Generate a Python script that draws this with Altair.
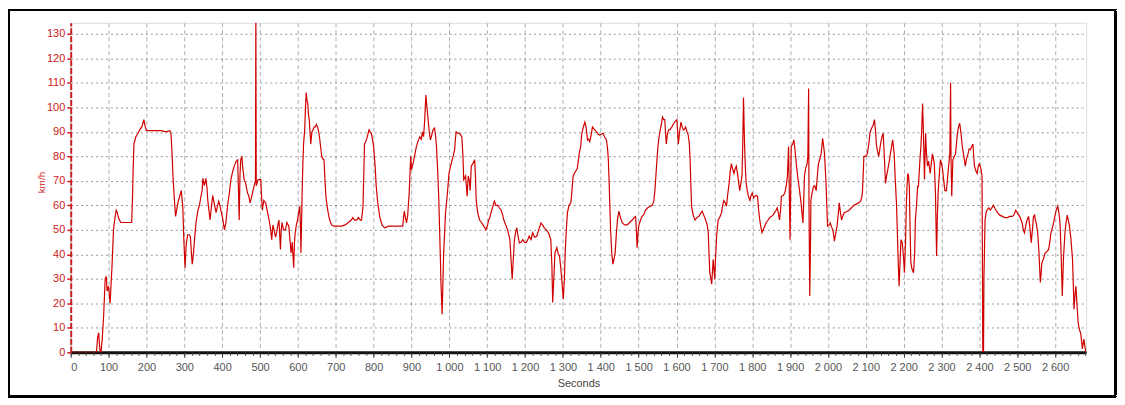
import altair as alt
import pandas as pd

# Time (s) and speed (km/h)
T = [0, 68, 71, 74, 76, 78, 80, 83, 87, 91, 94, 96, 100, 104, 109, 113, 117, 120, 123, 126, 132, 145, 155, 161, 163, 165, 167, 172, 178, 183, 188, 193, 197, 200, 220, 240, 250, 262, 265, 268, 270, 274, 277, 283, 292, 296, 299, 302, 305, 309, 313, 316, 319, 321, 324, 327, 331, 336, 340, 344, 347, 349, 353, 357, 360, 362, 365, 368, 372, 375, 380, 384, 388, 391, 394, 397, 401, 406, 410, 414, 419, 423, 428, 432, 437, 441,
     445, 447, 449, 452, 454, 458, 462, 467, 470, 474, 477, 480, 486, 488, 489, 490, 495, 502, 504, 506, 510, 515, 520, 524, 528, 531, 534, 537, 541, 544, 547, 550, 552, 554, 556, 558, 562, 567, 571, 576, 579, 582, 585, 589, 591, 593, 596, 599, 602, 605, 607, 608, 610, 611, 613, 615, 618, 620, 622, 624, 626, 628, 630, 632, 634, 637, 640, 643, 646, 649, 652, 655, 657, 660, 663, 666, 669, 671, 674, 677, 680, 684, 689, 695, 702, 715, 725, 737, 741, 745, 750, 755, 760, 765, 768, 772, 774, 776, 779, 781, 785, 788, 791, 794, 797, 800, 804, 807, 811, 816, 822, 829, 840, 850, 859, 870, 877, 879, 881, 884, 887, 890, 894, 898, 900, 904, 908, 913, 917, 922, 926, 929, 932, 935, 938, 941, 944, 947, 950, 954, 957, 961, 964, 966, 969, 972, 974, 976, 978, 981, 983, 985, 988, 990, 995, 999,
     1005, 1010, 1014, 1016, 1018, 1022, 1027, 1033, 1036, 1038, 1043, 1045, 1047, 1050, 1053, 1055, 1058, 1062, 1067, 1069, 1071, 1075, 1080, 1085, 1089, 1093, 1097, 1101, 1104, 1107, 1110, 1114, 1119, 1123, 1128, 1132, 1137, 1141, 1144, 1149, 1154, 1157, 1160, 1163, 1166, 1169, 1172, 1175, 1178, 1181, 1185, 1190, 1194, 1198, 1203, 1207, 1211, 1216, 1220, 1225, 1231, 1236, 1242, 1246, 1251, 1256, 1262, 1266, 1268, 1271, 1273, 1276, 1279, 1284, 1288, 1291, 1294, 1297, 1301, 1304, 1306, 1309, 1312, 1316, 1321, 1324, 1327, 1330, 1334, 1338, 1343, 1347, 1350, 1354, 1358, 1361, 1365, 1368, 1371, 1375, 1378, 1383, 1389, 1393, 1397, 1401, 1406, 1410, 1415, 1418, 1420, 1422, 1424, 1426, 1429, 1432, 1435, 1438, 1441, 1444, 1448, 1452, 1457, 1463, 1470, 1476, 1483, 1488, 1492, 1494, 1496, 1498,
     1500, 1505, 1509, 1513, 1518, 1524, 1531, 1536, 1540, 1543, 1546, 1549, 1551, 1554, 1557, 1560, 1563, 1566, 1569, 1571, 1573, 1576, 1579, 1583, 1588, 1591, 1595, 1598, 1601, 1603, 1605, 1608, 1612, 1615, 1618, 1621, 1624, 1628, 1631, 1634, 1636, 1638, 1640, 1644, 1649, 1654, 1659, 1663, 1668, 1672, 1677, 1681, 1684, 1686, 1688, 1691, 1693, 1695, 1697, 1699, 1701, 1703, 1706, 1710, 1714, 1719, 1722, 1725, 1729, 1732, 1735, 1739, 1742, 1745, 1748, 1752, 1755, 1758, 1762, 1767, 1770, 1773, 1775, 1777, 1779, 1780, 1782, 1784, 1787, 1790, 1794, 1797,
     1800, 1804, 1807, 1811, 1814, 1817, 1820, 1823, 1826, 1829, 1833, 1837, 1842, 1846, 1851, 1855, 1859, 1863, 1866, 1869, 1872, 1875, 1877, 1882, 1886, 1890, 1893, 1895, 1896, 1898, 1900, 1902, 1903, 1907, 1910, 1912, 1914, 1917, 1920, 1925, 1929, 1932, 1934, 1936, 1938, 1941, 1945, 1947, 1949, 1950, 1952, 1954, 1955, 1958, 1962, 1965, 1969, 1972, 1975, 1979, 1982, 1984, 1986, 1988, 1991, 1993, 1995, 1997, 1999,
     2003, 2006, 2010, 2013, 2015, 2017, 2020, 2024, 2027, 2030, 2033, 2036, 2040, 2043, 2050, 2056, 2062, 2069, 2075, 2081, 2086, 2089, 2091, 2093, 2095, 2100, 2104, 2108, 2111, 2114, 2117, 2120, 2123, 2126, 2128, 2131, 2134, 2138, 2141, 2143, 2146, 2149, 2152, 2155, 2158, 2162, 2165, 2168, 2171, 2173, 2175, 2178, 2181, 2184, 2186, 2188, 2190, 2193, 2196, 2198, 2200, 2202, 2205, 2207, 2209, 2211, 2213, 2215, 2217, 2219, 2222, 2226, 2229, 2231, 2234, 2237,
     2239, 2243, 2246, 2248, 2250, 2252, 2255, 2258, 2260, 2263, 2266, 2270, 2273, 2276, 2281, 2284, 2287, 2289, 2291, 2294, 2297, 2300, 2303, 2306, 2309, 2313, 2317, 2320, 2322, 2324, 2325, 2327, 2330, 2334, 2337, 2340, 2342, 2345, 2348, 2351, 2355, 2359, 2363, 2366, 2370, 2373, 2376, 2380, 2383, 2385, 2387, 2391, 2394, 2397, 2400, 2404, 2407, 2408, 2409, 2411, 2412, 2415, 2418, 2420, 2425, 2429, 2433, 2437, 2442, 2448, 2454, 2461, 2467, 2474, 2480, 2487, 2491, 2496,
     2500, 2504, 2508, 2513, 2516, 2519, 2523, 2526, 2530, 2534, 2537, 2540, 2543, 2546, 2548, 2551, 2554, 2557, 2561, 2563, 2565, 2569, 2574, 2578, 2583, 2586, 2589, 2593, 2596, 2600, 2603, 2607, 2610, 2613, 2616, 2619, 2622, 2626, 2629, 2632, 2635, 2638, 2642, 2646, 2648, 2650, 2653, 2655, 2657, 2658, 2661, 2664, 2668, 2672, 2676, 2681]

V = [0, 0, 6, 8, 3, 0, 0, 5, 15, 30, 31, 25, 27, 20, 35, 50, 55, 58, 57, 55, 53, 53, 53, 53, 62, 75, 85, 88, 89.5, 91, 92, 95, 92, 90.5, 90.5, 90.5, 90, 90.5, 89, 80, 72, 62, 55.5, 61, 66, 59.6, 45, 34.5, 44, 48, 48, 47.4, 40, 36, 40, 46, 53, 58, 60, 63.7, 66, 71, 68, 71, 67, 62, 58, 54, 60, 64, 60, 57, 60, 61.7, 60, 57.6, 55, 50, 53, 59.6, 65, 70.5, 74, 76, 78, 78.6,
     54, 72, 78.6, 80, 76, 70.5, 69, 65, 64, 61, 63, 65, 69, 70, 140, 68, 70.5, 70.5, 64, 58, 62, 61, 57, 54, 50, 46, 52, 50, 47, 49, 52, 54, 48, 42, 50, 53, 50, 50, 53, 51.5, 46, 40.6, 45, 34.5, 45, 49, 52, 54, 57, 59.6, 50, 40.6, 55, 63.7, 76, 85, 90.8, 100, 106, 103, 101.6, 97, 95, 90, 85, 90, 90.8, 92, 92, 93, 92, 90, 88, 84, 80, 79, 78.6, 72, 63.7, 60, 57, 54, 52, 51.5, 51.5, 51.5, 52, 53.5, 54, 55, 54, 54, 55, 54, 54, 59.6, 72, 85, 86, 86.7, 89, 90.8, 90, 89.4, 87, 84, 76, 67.7, 61, 55.5, 52, 50.8, 51.5, 51.5, 51.5, 51.5, 51.5, 55, 57.6, 55, 52.8, 56, 65, 80, 74.5, 77, 80, 84, 86, 88, 87, 90, 88, 95, 105, 100, 95, 90, 86.7, 89, 90.8, 91.5, 88, 84, 75, 63.7, 52, 40.6, 28, 15.6, 28, 40.6, 50, 57, 65, 73,
     77, 80, 82.7, 87, 90, 89.5, 89.4, 88, 80, 70.5, 72, 68, 63.7, 72, 70, 66, 76, 77, 78.6, 72, 62, 57, 54, 53, 52, 51, 50, 52, 54, 55, 57, 59, 61.7, 60, 60, 59, 58, 56, 54, 52, 50, 48, 46, 38, 29.8, 38, 46, 49, 50.8, 48, 44.7, 45, 46, 45, 44.7, 46, 47.4, 46, 48.8, 47, 47.4, 50, 52.8, 52, 50.8, 50, 48.8, 47, 46, 35, 20.3, 30, 40.6, 42.7, 40, 39.3, 35, 29.8, 21.7, 30, 40.6, 50, 57, 60, 61, 66, 72, 73, 74, 75, 81, 84, 89.4, 92, 94, 92, 86.7, 87, 86, 89, 92, 91, 90, 89, 88.7, 89, 89.4, 88, 86.7, 83, 78.6, 70, 59.6, 50, 40.6, 36, 38, 40.6, 48, 54, 57.6, 55, 52.8, 52, 52, 53, 54, 55, 55.5, 50, 42.7, 48,
     51.5, 54, 55.5, 56, 58, 59, 59.6, 60, 61.7, 66, 73, 80, 84, 88, 90.8, 93, 96, 95, 95, 90, 85, 89, 90.8, 91, 92, 93, 94, 94.5, 95, 90, 85, 90, 94, 92, 90.8, 91, 92, 90, 88.7, 85, 78.6, 68, 59.6, 56, 54, 55, 55.5, 56.5, 57.6, 56, 54, 52, 48.8, 40, 32.5, 30, 27.8, 33, 38, 34, 29.8, 38, 47.4, 54, 55, 57, 60, 62, 61, 59.6, 64, 69, 74, 77, 75, 73, 75, 76, 72, 66, 69, 72, 85, 104, 90, 84, 75, 69, 66, 63.7, 62, 64,
     65, 63, 63.7, 64, 63.7, 58, 54, 51, 48.8, 50, 51.5, 53, 54, 55, 55.5, 56, 57, 58, 59, 57, 54, 58, 63.7, 64, 65, 68, 72, 80, 84, 65, 46, 70, 84, 85, 86.7, 84, 81, 76, 72, 66, 61, 56, 52.8, 62, 72, 75, 77, 80, 107.7, 60, 23, 45, 62, 65, 67.7, 68, 66, 72, 77, 79, 81, 84, 87.4, 85, 81, 75, 69, 60, 51.5,
     52, 52.8, 51, 50, 48, 45.4, 48, 51.5, 56, 61, 57, 54, 56, 57, 57.5, 58, 59, 60, 60.5, 61, 61.7, 63, 65, 72, 80, 80, 81, 85, 89.4, 91, 92, 93, 95, 90, 85, 82, 80, 84, 86.7, 88, 89.4, 80, 69, 72, 74.5, 78, 81, 84, 86.7, 84, 81, 70, 61, 46, 35, 27, 35, 46, 45, 42, 38, 32.5, 45, 59.6, 68, 73, 72, 67.7, 50, 36.6, 34, 32.5, 40, 54, 60, 67.7,
     67.7, 78.6, 85, 92, 101.6, 90.8, 70.5, 89.4, 82, 76, 78, 73, 77, 81, 77, 65, 39.3, 55, 65, 72, 78.6, 77, 74.5, 70, 66, 66, 73, 78, 81, 110, 80, 63.7, 78.6, 80, 81, 86, 89.4, 92, 93.5, 90, 84, 80, 76, 79, 81, 83, 82.7, 84, 85, 80, 76, 74, 73, 76, 77, 75, 72, 40, 0, 0, 30, 54, 57, 58, 59, 58, 59, 60, 58.5, 57, 56, 55.5, 55, 55, 55.5, 55.5, 56, 58,
     57, 56, 55, 52.8, 50, 48.8, 52, 54, 55.5, 50, 44.7, 50, 55.5, 56, 54, 52, 48.8, 42, 28.5, 32, 36.6, 38, 40.6, 41, 42, 45, 48.8, 51, 52.8, 56, 58, 59.6, 57, 52.8, 40, 23, 38, 48.8, 53, 56, 54, 51.5, 46, 38, 28, 17.6, 24, 27, 22, 19, 12, 9.5, 7.5, 1.4, 5.4, 0]

X_TICKS = list(range(0, 2700, 100))
X_MINOR = list(range(0, 2700, 20))
Y_TICKS = list(range(0, 140, 10))

df = pd.DataFrame({"Seconds": T, "kmh": V})

RED = "#cc2020"
FONT = "Liberation Sans Narrow, Liberation Sans, Arial"

W, H = 1020, 331

xscale = alt.Scale(domain=[0, 2682], nice=False, zero=False)
yscale = alt.Scale(domain=[0, 134.5], nice=False)

y_axis = alt.Axis(values=Y_TICKS, tickCount=14, labelOverlap=False, grid=True,
                  gridDash=[2, 3], gridColor="#8a8a8a", gridWidth=0.9,
                  domainColor=RED, domainWidth=2, domainDash=[6, 2],
                  tickColor=RED, tickSize=4, tickWidth=1.5,
                  labelColor=RED, labelFontSize=11, labelFont=FONT, labelPadding=2,
                  title="km/h", titleFont=FONT, titleFontSize=10,
                  titleFontWeight="normal", titleColor=RED, titleX=-24, titleY=160)

line = alt.Chart(df).mark_line(color="#d00000", strokeWidth=1.2, clip=True).encode(
    x=alt.X("Seconds:Q", scale=xscale,
            axis=alt.Axis(values=X_TICKS, orient="bottom", labelOverlap=False,
                          labelExpr="replace(format(datum.value, ','), ',', ' ')",
                          grid=True, gridDash=[4, 3], gridColor="#9a9a9a", gridWidth=0.8,
                          domainColor="#111", domainWidth=3,
                          tickColor="#333", tickSize=5, tickWidth=1,
                          labelColor="#555", labelFontSize=11, labelFont=FONT, labelPadding=4,
                          title="Seconds", titleFont=FONT, titleFontSize=11,
                          titleFontWeight="normal", titleColor="#444", titlePadding=5)),
    y=alt.Y("kmh:Q", scale=yscale, axis=y_axis),
)

minor = alt.Chart(df).mark_line(opacity=0).encode(
    x=alt.X("Seconds:Q", scale=xscale,
            axis=alt.Axis(values=X_MINOR, orient="bottom", labels=False, grid=False,
                          domain=False, tickColor="#444", tickSize=3, tickWidth=1, title="")),
    y=alt.Y("kmh:Q", scale=yscale, axis=y_axis),
)

frame = alt.Chart(df).mark_rect(fill="transparent", stroke="black", strokeWidth=2).encode(
    x=alt.value(-62), x2=alt.value(W + 29), y=alt.value(-13), y2=alt.value(H + 44)
)

chart = alt.layer(line, minor, frame).resolve_axis(x="independent").properties(
    width=W, height=H,
    autosize=alt.AutoSizeParams(type="none"),
    padding={"left": 63, "top": 14, "right": 31, "bottom": 46},
).configure_view(stroke="#777", strokeWidth=1.5).configure(background="white")

chart.save("out.html", embed_options={"renderer": "svg", "actions": False})
